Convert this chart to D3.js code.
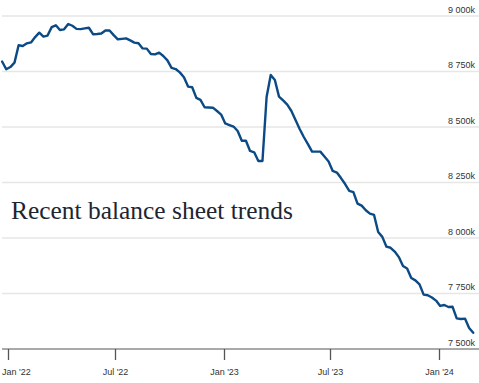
<!DOCTYPE html>
<html>
<head>
<meta charset="utf-8">
<script src="https://cdn.jsdelivr.net/npm/d3@7"></script>
<style>
  html, body { margin: 0; padding: 0; background: #fff; }
  svg { display: block; }
</style>
</head>
<body>
<div id="chart"></div>
<script>
// ---- Data (Fed balance sheet, weekly, $ millions shown as "k") ----
const firstWeek = "2021-12-22";
const values = [
  8795, 8760, 8770, 8790, 8868, 8865, 8877, 8881, 8905, 8925,
  8907, 8912, 8950, 8958, 8937, 8940, 8964, 8956, 8942, 8941,
  8944, 8947, 8918, 8919, 8921, 8935, 8935, 8914, 8895, 8897,
  8899, 8890, 8880, 8877, 8854, 8853, 8829, 8827, 8835, 8820,
  8800, 8766, 8761, 8746, 8724, 8682, 8679, 8631, 8622, 8589,
  8588, 8587, 8572, 8556, 8516, 8509, 8502, 8482, 8438, 8438,
  8392, 8386, 8347, 8347, 8635, 8734, 8712, 8637, 8620, 8601,
  8572, 8532, 8491, 8455, 8423, 8389, 8389, 8389, 8367, 8345,
  8302, 8295, 8270, 8243, 8212, 8207, 8155, 8146, 8125, 8110,
  8104, 8027, 8005, 7961, 7956, 7939, 7914, 7874, 7863, 7820,
  7809, 7791, 7745, 7742, 7732, 7718, 7694, 7698, 7689, 7690,
  7638, 7635, 7637, 7595, 7573
];
const yTicks = [7500, 7750, 8000, 8250, 8500, 8750, 9000];
const xTickDates = ["2022-01-01", "2022-07-01", "2023-01-01", "2023-07-01", "2024-01-01"];
const xTickLabels = ["Jan '22", "Jul '22", "Jan '23", "Jul '23", "Jan '24"];
const title = "Recent balance sheet trends";

// ---- Layout ----
const W = 479, H = 383;
const parse = d3.timeParse("%Y-%m-%d");
const start = parse(firstWeek);
const data = values.map((v, i) => ({ date: d3.timeDay.offset(start, 7 * i), value: v }));

const x = d3.scaleTime()
  .domain([parse(xTickDates[0]), parse(xTickDates[4])])
  .range([8, 439]);
const y = d3.scaleLinear().domain([7500, 9000]).range([349, 16]);

const svg = d3.select("#chart").append("svg")
  .attr("width", W).attr("height", H)
  .style("font-family", "'Liberation Sans', Arial, sans-serif");

// gridlines
svg.append("g").selectAll("line")
  .data(yTicks.slice(1))
  .join("line")
  .attr("x1", 2).attr("x2", W)
  .attr("y1", d => y(d)).attr("y2", d => y(d))
  .attr("stroke", "#e6e6e6").attr("stroke-width", 1.5);

// y labels
const fmt = d3.formatLocale({ decimal: ".", thousands: "\u00a0", grouping: [3], currency: ["", ""] }).format(",");
svg.append("g").selectAll("text")
  .data(yTicks)
  .join("text")
  .attr("x", 475)
  .attr("y", d => y(d) - 3.5)
  .attr("text-anchor", "end")
  .attr("font-size", 9)
  .attr("fill", "#333")
  .text(d => fmt(d) + "k");

// x axis line
svg.append("line")
  .attr("x1", 2).attr("x2", W)
  .attr("y1", y(7500)).attr("y2", y(7500))
  .attr("stroke", "#555").attr("stroke-width", 1);

// x ticks
const xg = svg.append("g");
xTickDates.forEach((d, i) => {
  const px = Math.round(x(parse(d))) + 0.5;
  xg.append("line")
    .attr("x1", px).attr("x2", px)
    .attr("y1", y(7500)).attr("y2", y(7500) + 11)
    .attr("stroke", "#555").attr("stroke-width", 1.3);
  const t = xg.append("text")
    .attr("x", px)
    .attr("y", 375)
    .attr("text-anchor", "middle")
    .attr("font-size", 9)
    .attr("fill", "#333")
    .text(xTickLabels[i]);
  const bb = t.node().getBBox();
  if (bb.x < 2) t.attr("text-anchor", "start").attr("x", 2);
});

// line
const line = d3.line().x(d => x(d.date)).y(d => y(d.value));
svg.append("path")
  .datum(data)
  .attr("d", line)
  .attr("fill", "none")
  .attr("stroke", "#0b4a84")
  .attr("stroke-width", 2.4)
  .attr("stroke-linejoin", "round")
  .attr("stroke-linecap", "round");

// title
const tt = svg.append("text")
  .attr("x", 11).attr("y", 219)
  .attr("font-family", "Georgia, 'Liberation Serif', 'DejaVu Serif', serif")
  .attr("font-size", 24)
  .attr("fill", "#1e2530")
  .text(title);
const len = tt.node().getComputedTextLength();
tt.attr("font-size", 24 * 282 / len);
</script>
</body>
</html>
